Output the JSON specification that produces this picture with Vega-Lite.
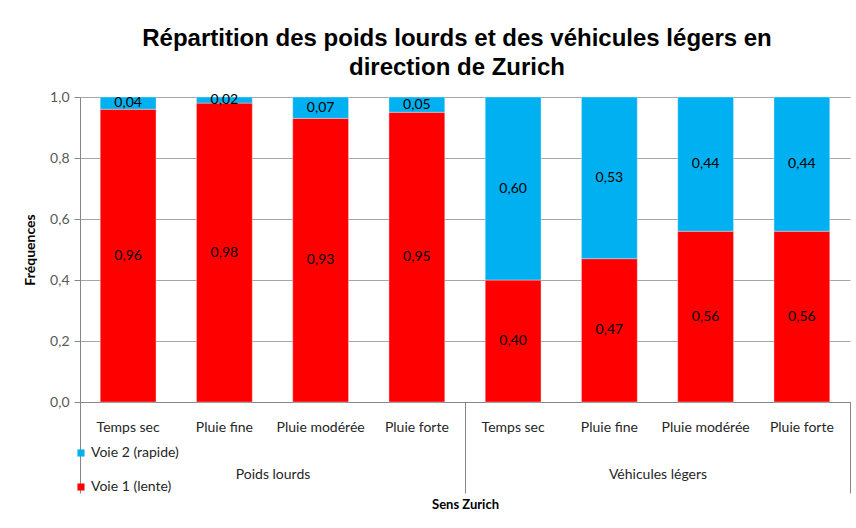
{
  "$schema": "https://vega.github.io/schema/vega-lite/v6.json",
  "autosize": {"type": "none"},
  "width": 770,
  "height": 305,
  "padding": {"left": 80, "top": 97, "right": 6, "bottom": 126},
  "background": "white",
  "config": {
    "locale": {"number": {"decimal": ",", "thousands": " ", "grouping": [3], "currency": ["", " €"]}},
    "view": {"stroke": null},
    "axis": {"labelFont": "Lato", "titleFont": "Lato", "domainColor": "#868686", "tickColor": "#868686"},
    "legend": {"labelFont": "Lato"}
  },
  "title": {
    "text": ["Répartition des poids lourds et des véhicules légers en", "direction de Zurich"],
    "font": "Liberation Sans",
    "fontSize": 24,
    "fontWeight": "bold",
    "color": "#000000",
    "anchor": "middle",
    "lineHeight": 29,
    "offset": 10,
    "dx": -8
  },
  "data": {
    "values": [
      {"groupe": "Poids lourds", "cle": "Poids lourds|Temps sec", "meteo": "Temps sec", "voie": "Voie 1 (lente)", "freq": 0.96},
      {"groupe": "Poids lourds", "cle": "Poids lourds|Temps sec", "meteo": "Temps sec", "voie": "Voie 2 (rapide)", "freq": 0.04},
      {"groupe": "Poids lourds", "cle": "Poids lourds|Pluie fine", "meteo": "Pluie fine", "voie": "Voie 1 (lente)", "freq": 0.98},
      {"groupe": "Poids lourds", "cle": "Poids lourds|Pluie fine", "meteo": "Pluie fine", "voie": "Voie 2 (rapide)", "freq": 0.02},
      {"groupe": "Poids lourds", "cle": "Poids lourds|Pluie modérée", "meteo": "Pluie modérée", "voie": "Voie 1 (lente)", "freq": 0.93},
      {"groupe": "Poids lourds", "cle": "Poids lourds|Pluie modérée", "meteo": "Pluie modérée", "voie": "Voie 2 (rapide)", "freq": 0.07},
      {"groupe": "Poids lourds", "cle": "Poids lourds|Pluie forte", "meteo": "Pluie forte", "voie": "Voie 1 (lente)", "freq": 0.95},
      {"groupe": "Poids lourds", "cle": "Poids lourds|Pluie forte", "meteo": "Pluie forte", "voie": "Voie 2 (rapide)", "freq": 0.05},
      {"groupe": "Véhicules légers", "cle": "Véhicules légers|Temps sec", "meteo": "Temps sec", "voie": "Voie 1 (lente)", "freq": 0.40},
      {"groupe": "Véhicules légers", "cle": "Véhicules légers|Temps sec", "meteo": "Temps sec", "voie": "Voie 2 (rapide)", "freq": 0.60},
      {"groupe": "Véhicules légers", "cle": "Véhicules légers|Pluie fine", "meteo": "Pluie fine", "voie": "Voie 1 (lente)", "freq": 0.47},
      {"groupe": "Véhicules légers", "cle": "Véhicules légers|Pluie fine", "meteo": "Pluie fine", "voie": "Voie 2 (rapide)", "freq": 0.53},
      {"groupe": "Véhicules légers", "cle": "Véhicules légers|Pluie modérée", "meteo": "Pluie modérée", "voie": "Voie 1 (lente)", "freq": 0.56},
      {"groupe": "Véhicules légers", "cle": "Véhicules légers|Pluie modérée", "meteo": "Pluie modérée", "voie": "Voie 2 (rapide)", "freq": 0.44},
      {"groupe": "Véhicules légers", "cle": "Véhicules légers|Pluie forte", "meteo": "Pluie forte", "voie": "Voie 1 (lente)", "freq": 0.56},
      {"groupe": "Véhicules légers", "cle": "Véhicules légers|Pluie forte", "meteo": "Pluie forte", "voie": "Voie 2 (rapide)", "freq": 0.44}
    ]
  },
  "transform": [
    {"stack": "freq", "groupby": ["cle"], "sort": [{"field": "voie", "order": "ascending"}], "as": ["v0", "v1"]},
    {"calculate": "(datum.v0 + datum.v1) / 2", "as": "milieu"}
  ],
  "layer": [
    {
      "layer": [
        {
          "mark": {"type": "bar", "stroke": "#f4f4f4", "strokeWidth": 0.4},
          "encoding": {
            "x": {
              "field": "cle", "type": "nominal", "sort": null,
              "scale": {"paddingInner": 0.42, "paddingOuter": 0.21},
              "axis": {
                "orient": "bottom", "title": null, "ticks": false, "labelAngle": 0,
                "labelExpr": "slice(datum.label, indexof(datum.label, '|') + 1)",
                "labelFontSize": 14, "labelColor": "#262626", "labelPadding": 18,
                "labelOverlap": false, "labelBound": false,
                "domainColor": "#868686"
              }
            },
            "y": {
              "field": "v0", "type": "quantitative",
              "scale": {"domain": [0, 1], "nice": false},
              "axis": {
                "title": "Fréquences", "titleFontSize": 14, "titleFontWeight": "bold", "titleColor": "#000000",
                "titlePadding": 12,
                "values": [0, 0.2, 0.4, 0.6, 0.8, 1.0], "format": ".1f",
                "labelFontSize": 14, "labelColor": "#595959", "labelPadding": 5,
                "tickSize": 6, "grid": true, "gridColor": "#a6a6a6", "gridWidth": 1
              }
            },
            "y2": {"field": "v1"},
            "color": {
              "field": "voie", "type": "nominal",
              "scale": {"domain": ["Voie 2 (rapide)", "Voie 1 (lente)"], "range": ["#00b0f0", "#ff0000"]},
              "legend": {
                "title": null, "orient": "none", "legendX": -6, "legendY": 349,
                "symbolType": "square", "symbolSize": 50, "symbolStrokeWidth": 0,
                "labelFontSize": 14, "labelColor": "#262626", "rowPadding": 20, "padding": 0, "labelOffset": 3
              }
            }
          }
        },
        {
          "mark": {"type": "text", "font": "Lato", "fontSize": 14, "color": "#000000", "baseline": "middle"},
          "encoding": {
            "x": {"field": "cle", "type": "nominal", "sort": null},
            "y": {"field": "milieu", "type": "quantitative"},
            "text": {"field": "freq", "type": "quantitative", "format": ".2f"}
          }
        }
      ]
    },
    {
      "mark": {"type": "bar", "opacity": 0},
      "encoding": {
        "x": {
          "field": "groupe", "type": "nominal", "sort": null,
          "scale": {"paddingInner": 0, "paddingOuter": 0},
          "axis": {
            "orient": "bottom", "tickBand": "extent", "tickSize": 91, "domain": false,
            "labelAngle": 0, "labelFontSize": 14, "labelColor": "#262626", "labelPadding": -26,
            "title": "Sens Zurich", "titleFontSize": 13, "titleFontWeight": "bold", "titleColor": "#000000", "titlePadding": 5
          }
        }
      }
    }
  ],
  "resolve": {"scale": {"x": "independent"}, "axis": {"x": "independent"}}
}
